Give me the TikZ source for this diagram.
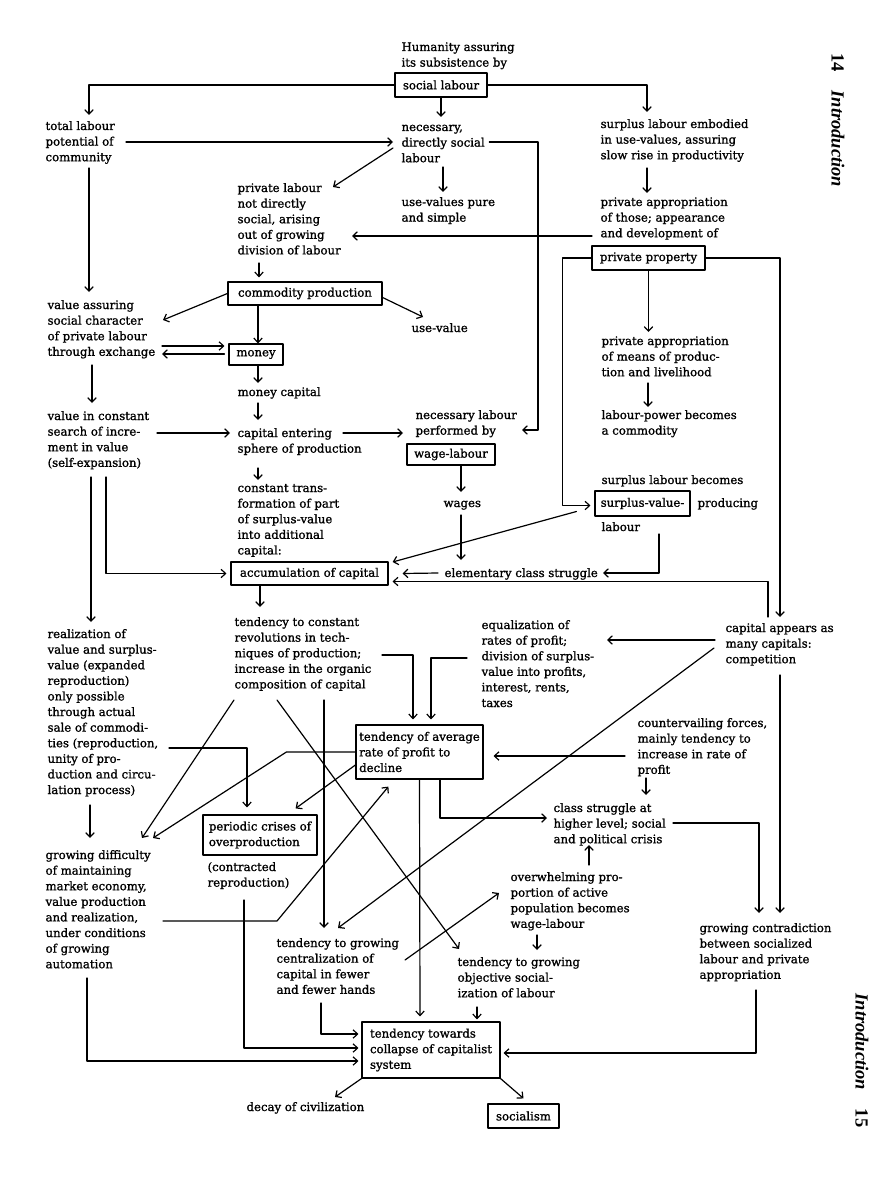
\documentclass[tikz,border=0pt]{standalone}
\usepackage{fontspec}
\setmainfont{DejaVu Serif}[UprightFeatures={FakeBold=1.2}]
\newfontfamily\hdrfont{Liberation Serif}
\usetikzlibrary{arrows.meta}
\newcommand{\dong}[1]{\begin{tabular}[t]{@{}l@{}}#1\end{tabular}}

\begin{document}
\begin{tikzpicture}[x=1pt,y=-1pt,
	line join=round,line cap=round,>={Straight Barb[length=4.5pt,width=8.5pt]},line width=1.2pt,
	every node/.style={font=\fontsize{11.7}{15.6}\selectfont},
	chu/.style={anchor=base west,inner sep=0pt},
	hcn/.style={draw,line width=1.2pt,inner sep=0pt,align=left},
	dau/.style={font=\hdrfont\fontsize{18.5}{20}\selectfont\bfseries,rotate=-90,anchor=west,inner sep=0pt}]
	\path[fill=white] (0,0) rectangle (892,1190);
	\useasboundingbox (0,0) rectangle (892,1190);
	\node at (401,51) (nodeHum) [chu] {\dong{Humanity assuring\\its subsistence by}};
	\node at (441,85) (nodeSoc) [hcn,minimum width=92pt,minimum height=24pt] {social labour};
	\node at (45,130) (nodeTot) [chu] {\dong{total labour\\potential of\\community}};
	\node at (401,131) (nodeNec) [chu] {\dong{necessary,\\directly social\\labour}};
	\node at (600,128) (nodeSur) [chu] {\dong{surplus labour embodied\\in use-values, assuring\\slow rise in productivity}};
	\node at (237,192) (nodePrl) [chu] {\dong{private labour\\not directly\\social, arising\\out of growing\\division of labour}};
	\node at (401,206) (nodeUvp) [chu] {\dong{use-values pure\\and simple}};
	\node at (600,206) (nodePra) [chu] {\dong{private appropriation\\of those; appearance\\and development of}};
	\node at (648.5,258) (nodePrp) [hcn,minimum width=113pt,minimum height=24pt] {private property};
	\node at (305,293.5) (nodeCom) [hcn,minimum width=154pt,minimum height=23pt] {commodity production};
	\node at (47,309) (nodeVas) [chu] {\dong{value assuring\\social character\\of private labour\\through exchange}};
	\node at (411,332) (nodeUsv) [chu] {use-value};
	\node at (601,345) (nodeMea) [chu] {\dong{private appropriation\\of means of produc-\\tion and livelihood}};
	\node at (256,354.5) (nodeMon) [hcn,minimum width=54pt,minimum height=21pt] {money};
	\node at (237,396) (nodeMca) [chu] {money capital};
	\node at (47,420) (nodeVsr) [chu] {\dong{value in constant\\search of incre-\\ment in value\\(self-expansion)}};
	\node at (601,419) (nodeLpw) [chu] {\dong{labour-power becomes\\a commodity}};
	\node at (237,437) (nodeCen) [chu] {\dong{capital entering\\sphere of production}};
	\node at (415,419) (nodeNlp) [chu] {\dong{necessary labour\\performed by}};
	\node at (451,454.5) (nodeWag) [hcn,minimum width=88pt,minimum height=21pt] {wage-labour};
	\node at (601,484) (nodeSlb) [chu] {surplus labour becomes};
	\node at (642.5,503.5) (nodeSvb) [hcn,minimum width=95pt,minimum height=25pt] {surplus-value-};
	\node at (697,507) (nodePrd) [chu] {producing};
	\node at (601,531) (nodeLab) [chu] {labour};
	\node at (443,507) (nodeWgs) [chu] {wages};
	\node at (237,492) (nodeCtr) [chu] {\dong{constant trans-\\formation of part\\of surplus-value\\into additional\\capital:}};
	\node at (309.5,573.5) (nodeAcc) [hcn,minimum width=157pt,minimum height=23pt] {accumulation of capital};
	\node at (444,577) (nodeEcs) [chu] {elementary class struggle};
	\node at (47,638) (nodeRea) [chu] {\dong{realization of\\value and surplus-\\value (expanded\\reproduction)\\only possible\\through actual\\sale of commodi-\\ties (reproduction,\\unity of pro-\\duction and circu-\\lation process)}};
	\node at (234,626) (nodeRev) [chu] {\dong{tendency to constant\\revolutions in tech-\\niques of production;\\increase in the organic\\composition of capital}};
	\node at (481,629) (nodeEqu) [chu] {\dong{equalization of\\rates of profit;\\division of surplus-\\value into profits,\\interest, rents,\\taxes}};
	\node at (725,632) (nodeCap) [chu] {\dong{capital appears as\\many capitals:\\competition}};
	\node at (419.5,752) (nodeAvg) [hcn,minimum width=127pt,minimum height=54pt] {tendency of average\\rate of profit to\\decline};
	\node at (637,727) (nodeCtv) [chu] {\dong{countervailing forces,\\mainly tendency to\\increase in rate of\\profit}};
	\node at (553,812) (nodeCls) [chu] {\dong{class struggle at\\higher level; social\\and political crisis}};
	\node at (260,835) (nodeCri) [hcn,minimum width=114pt,minimum height=40pt] {periodic crises of\\overproduction};
	\node at (45,859) (nodeDif) [chu] {\dong{growing difficulty\\of maintaining\\market economy,\\value production\\and realization,\\under conditions\\of growing\\automation}};
	\node at (207,871) (nodeCon) [chu] {\dong{(contracted\\reproduction)}};
	\node at (510,881) (nodeOvw) [chu] {\dong{overwhelming pro-\\portion of active\\population becomes\\wage-labour}};
	\node at (699,932) (nodeGco) [chu] {\dong{growing contradiction\\between socialized\\labour and private\\appropriation}};
	\node at (276,947) (nodeCnt) [chu] {\dong{tendency to growing\\centralization of\\capital in fewer\\and fewer hands}};
	\node at (457,966) (nodeObj) [chu] {\dong{tendency to growing\\objective social-\\ization of labour}};
	\node at (431,1050) (nodeCol) [hcn,minimum width=138pt,minimum height=56pt] {tendency towards\\collapse of capitalist\\system};
	\node at (246,1111) (nodeDec) [chu] {decay of civilization};
	\node at (523.5,1116) (nodeSoz) [hcn,minimum width=71pt,minimum height=24pt] {socialism};
	\node at (838,53) (nodeTr14) [dau] {14\quad\textit{Introduction}};
	\node at (862,993) (nodeTr15) [dau] {\textit{Introduction}\quad 15};
	\draw[->] (nodeSoc.west) -| ([shift={(44,-15)}]nodeTot.base west);
	\draw[->] (nodeSoc.east) -| ([shift={(47,-16)}]nodeSur.base west);
	\draw[->] (nodeSoc.south) -- ([shift={(40,-14)}]nodeNec.base west);
	\draw[->] ([shift={(81,12)}]nodeTot.base west) -- ([shift={(-8,11)}]nodeNec.base west);
	\draw[->] ([shift={(-8,17)}]nodeNec.base west) -- ([shift={(96,-5)}]nodePrl.base west);
	\draw[->] ([shift={(42,36)}]nodeNec.base west) -- ([shift={(42,-14)}]nodeUvp.base west);
	\draw[->] ([shift={(4,11)}]nodeNec.base east) -| ([shift={(123,11)}]nodeNlp.base west) -- ([shift={(107,11)}]nodeNlp.base west);
	\draw[->] ([shift={(-8,30)}]nodePra.base west) -- ([shift={(115,44)}]nodePrl.base west);
	\draw[->] ([shift={(22,71)}]nodePrl.base west) -- ([shift={(-46,-4)}]nodeCom.north);
	\draw[->] (nodePrp.south) -- ([shift={(47.5,-13)}]nodeMea.base west);
	\draw[->] ([shift={(47,38)}]nodeMea.base west) -- ([shift={(47,-12)}]nodeLpw.base west);
	\draw[->] ([shift={(47,40)}]nodeSur.base west) -- ([shift={(47,-13)}]nodePra.base west);
	\draw[->] (nodePrp.west) -| ([shift={(-32,2)}]nodeSvb.west) -- ([shift={(-4,2)}]nodeSvb.west);
	\draw[->] (nodePrp.east) -| ([shift={(55,-15)}]nodeCap.base west);
	\draw[->] ([shift={(44,38)}]nodeTot.base west) -- ([shift={(42,-17)}]nodeVas.base west);
	\draw[->] (nodeCom.west) -- ([shift={(116,11)}]nodeVas.base west);
	\draw[->] ([shift={(-47,0)}]nodeCom.south) -- ([shift={(2,0)}]nodeMon.north);
	\draw[->] ([shift={(0,4)}]nodeCom.east) -- ([shift={(12,-15)}]nodeUsv.base west);
	\draw[->] ([shift={(115,37)}]nodeVas.base west) -- ([shift={(-4,-8.5)}]nodeMon.west);
	\draw[->] ([shift={(-4,-0.5)}]nodeMon.west) -- ([shift={(115,45)}]nodeVas.base west);
	\draw[->] ([shift={(2,0)}]nodeMon.south) -- ([shift={(21,-13)}]nodeMca.base west);
	\draw[->] ([shift={(21,7)}]nodeMca.base west) -- ([shift={(21,-17)}]nodeCen.base west);
	\draw[->] ([shift={(45,56)}]nodeVas.base west) -- ([shift={(45,-17)}]nodeVsr.base west);
	\draw[->] ([shift={(110,13)}]nodeVsr.base west) -- ([shift={(-7,-4)}]nodeCen.base west);
	\draw[->] ([shift={(106,-4)}]nodeCen.base west) -- ([shift={(-12,14)}]nodeNlp.base west);
	\draw[->] ([shift={(21,31)}]nodeCen.base west) -- ([shift={(21,-12)}]nodeCtr.base west);
	\draw[->] ([shift={(10,0)}]nodeWag.south) -- ([shift={(18,-15)}]nodeWgs.base west);
	\draw[->] ([shift={(18,8)}]nodeWgs.base west) -- ([shift={(17,-17)}]nodeEcs.base west);
	\draw[->] ([shift={(-18,8)}]nodeSvb.west) -- ([shift={(4,-11.5)}]nodeAcc.east);
	\draw[->] ([shift={(58,3)}]nodeLab.base west) |- ([shift={(159,-4)}]nodeEcs.base west);
	\draw[->] ([shift={(-6,-4)}]nodeEcs.base west) -- ([shift={(14,0)}]nodeAcc.east);
	\draw[->] ([shift={(43,-15)}]nodeCap.base west) |- ([shift={(4,8)}]nodeAcc.east);
	\draw[->] ([shift={(59,57)}]nodeVsr.base west) |- ([shift={(-4,0)}]nodeAcc.west);
	\draw[->] ([shift={(44,57)}]nodeVsr.base west) -- ([shift={(44,-16)}]nodeRea.base west);
	\draw[->] ([shift={(-49.5,0)}]nodeAcc.south) -- ([shift={(26,-19)}]nodeRev.base west);
	\draw[->] ([shift={(122,110)}]nodeRea.base west) -| ([shift={(-13,-7)}]nodeCri.north);
	\draw[->] ([shift={(43,167)}]nodeRea.base west) -- ([shift={(45,-21)}]nodeDif.base west);
	\draw[->] ([shift={(0,74)}]nodeRev.base west) -- ([shift={(97,-21)}]nodeDif.base west);
	\draw[->] (nodeAvg.west) -- ([shift={(-69,0)}]nodeAvg.west) -- ([shift={(108,-21)}]nodeDif.base west);
	\draw[->] ([shift={(0,13)}]nodeAvg.west) -- ([shift={(-22,-6)}]nodeCri.north east);
	\draw[->] ([shift={(43,74)}]nodeRev.base west) -- ([shift={(2,-17)}]nodeObj.base west);
	\draw[->] ([shift={(90,74)}]nodeRev.base west) -- ([shift={(48,-19)}]nodeCnt.base west);
	\draw[->] ([shift={(148,29)}]nodeRev.base west) -| ([shift={(-6.5,-5)}]nodeAvg.north);
	\draw[->] ([shift={(-14,29)}]nodeEqu.base west) -| ([shift={(11.5,-5)}]nodeAvg.north);
	\draw[->] ([shift={(-10,8)}]nodeCap.base west) -- ([shift={(126,11)}]nodeEqu.base west);
	\draw[->] ([shift={(-11,16)}]nodeCap.base west) -- ([shift={(62,-19)}]nodeCnt.base west);
	\draw[->] ([shift={(-12,29)}]nodeCtv.base west) -- ([shift={(10,4)}]nodeAvg.east);
	\draw[->] ([shift={(9,51)}]nodeCtv.base west) -- ([shift={(93,-17)}]nodeCls.base west);
	\draw[->] ([shift={(20.5,0)}]nodeAvg.south) |- ([shift={(-6,6)}]nodeCls.base west);
	\draw[->] (nodeAvg.south) -- ([shift={(-11,-5)}]nodeCol.north);
	\draw[->] ([shift={(118,62)}]nodeDif.base west) -- ([shift={(232,62)}]nodeDif.base west) -- ([shift={(33,7)}]nodeAvg.south west);
	\draw[->] ([shift={(120,11)}]nodeCls.base west) -| ([shift={(60,-19)}]nodeGco.base west);
	\draw[->] ([shift={(55,43)}]nodeCap.base west) -- ([shift={(81,-19)}]nodeGco.base west);
	\draw[->] ([shift={(79,-16)}]nodeOvw.base west) -- ([shift={(36,33)}]nodeCls.base west);
	\draw[->] ([shift={(129,13)}]nodeCnt.base west) -- ([shift={(-11,12)}]nodeOvw.base west);
	\draw[->] ([shift={(27,54)}]nodeOvw.base west) -- ([shift={(80,-16)}]nodeObj.base west);
	\draw[->] ([shift={(20,41)}]nodeObj.base west) -- ([shift={(46,-2)}]nodeCol.north);
	\draw[->] ([shift={(45,56)}]nodeCnt.base west) |- ([shift={(-3,-16)}]nodeCol.west);
	\draw[->] ([shift={(37,29)}]nodeCon.base west) |- ([shift={(-3,-2)}]nodeCol.west);
	\draw[->] ([shift={(42,119)}]nodeDif.base west) |- ([shift={(-3,11)}]nodeCol.west);
	\draw[->] ([shift={(57,58)}]nodeGco.base west) |- ([shift={(3,3)}]nodeCol.east);
	\draw[->] (nodeCol.south west) -- ([shift={(89,-14)}]nodeDec.base west);
	\draw[->] (nodeCol.south east) -- ([shift={(0,-5)}]nodeSoz.north);
\end{tikzpicture}
\end{document}
